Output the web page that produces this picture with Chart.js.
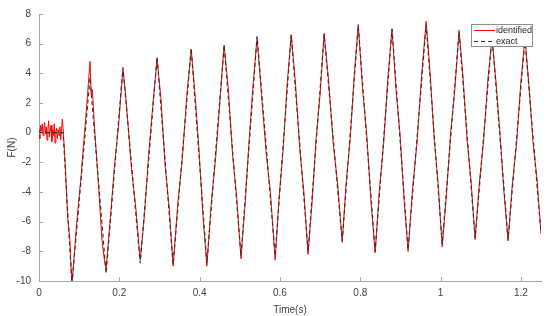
<!DOCTYPE html>
<html>
<head>
<meta charset="utf-8">
<script src="https://cdn.jsdelivr.net/npm/chart.js@4.4.0/dist/chart.umd.min.js"></script>
<style>
  html, body { margin: 0; padding: 0; background: #ffffff; }
  #wrap { width: 550px; height: 316px; }
</style>
</head>
<body>
<div id="wrap"><canvas id="forceChart" width="550" height="316"></canvas></div>
<script>
// exact force (dashed) - turning points
const exactTime = [0, 0.060, 0.082, 0.127, 0.167, 0.209, 0.252, 0.294, 0.334, 0.379, 0.418, 0.461, 0.503, 0.543, 0.588, 0.628,
    0.670, 0.710, 0.755, 0.795, 0.837, 0.879, 0.919, 0.964, 1.004, 1.046, 1.086, 1.128, 1.168, 1.210, 1.25];
const exactForce = [0, 0, -10.2, 3.7, -9.5, 4.4, -8.8, 5.1, -8.9, 5.7, -8.8, 5.9, -8.3, 6.5, -8.3, 6.6,
    -8.0, 6.6, -7.3, 7.2, -8.0, 7.0, -7.9, 7.3, -7.5, 6.8, -7.1, 6.5, -7.2, 6.3, -6.8];

// identified force (red) - noisy trace
const identTime = [0, 0.002, 0.004, 0.006, 0.008, 0.010, 0.012, 0.014, 0.016, 0.018, 0.020, 0.022, 0.024, 0.026, 0.028, 0.030,
    0.032, 0.034, 0.036, 0.038, 0.040, 0.042, 0.044, 0.046, 0.048, 0.050, 0.052, 0.054, 0.056, 0.058, 0.060,
    0.0655, 0.071, 0.0765, 0.082, 0.0932, 0.1045, 0.1158, 0.121, 0.127, 0.130, 0.133, 0.137, 0.147, 0.157, 0.162, 0.167,
    0.1775, 0.188, 0.1985, 0.209, 0.216, 0.2305, 0.2412, 0.252, 0.2625, 0.273, 0.2835, 0.294, 0.304, 0.314, 0.324, 0.334,
    0.3452, 0.3565, 0.3678, 0.379, 0.3888, 0.3985, 0.4082, 0.418, 0.4288, 0.4395, 0.4502, 0.461, 0.4715, 0.482, 0.4925, 0.503,
    0.513, 0.523, 0.533, 0.543, 0.5542, 0.5655, 0.5768, 0.588, 0.598, 0.608, 0.618, 0.628, 0.6385, 0.649, 0.6595, 0.670,
    0.680, 0.690, 0.700, 0.710, 0.7212, 0.7325, 0.7438, 0.755, 0.765, 0.775, 0.785, 0.795, 0.8055, 0.816, 0.8265, 0.837,
    0.8475, 0.858, 0.8685, 0.879, 0.889, 0.899, 0.909, 0.919, 0.9302, 0.9415, 0.9528, 0.964, 0.974, 0.984, 0.994, 1.004,
    1.0145, 1.025, 1.0355, 1.046, 1.056, 1.066, 1.076, 1.086, 1.0965, 1.107, 1.1175, 1.128, 1.138, 1.148, 1.158, 1.168,
    1.1785, 1.189, 1.1995, 1.210, 1.220, 1.230, 1.240, 1.25];
const identForce = [0.2, -0.4, 0.5, 0.1, 0.6, -0.2, 0.3, 0.7, -0.1, 0.4, -0.5, 0.2, 0.8, -0.3, 0.1, 0.5,
    -0.6, 0.2, -0.2, 0.6, -0.7, 0.1, 0.3, -0.4, 0.2, -0.2, 0.4, -0.5, 0.1, 0.9, 0.3,
    -2.2, -5.6, -7.1, -10.3, -6.3, -3.0, 0.8, 2.6, 4.8, 2.6, 2.9, 0.9, -3.1, -7.3, -8.4, -9.2,
    -5.8, -2.2, 0.6, 4.3, 2.5, -2.5, -5.1, -8.6, -5.6, -1.5, 1.9, 5.0, 2.2, -2.2, -5.0, -9.0,
    -4.9, -1.9, 2.4, 5.6, 2.5, -1.2, -5.6, -9.0, -4.8, -1.8, 2.0, 5.9, 2.9, -1.5, -4.4, -8.5,
    -4.9, -0.6, 3.2, 6.4, 2.5, -1.3, -4.2, -8.6, -4.3, -1.1, 3.3, 6.6, 3.4, -1.0, -4.0, -8.2,
    -4.7, -0.4, 2.6, 6.7, 3.5, -0.7, -3.5, -7.4, -3.3, -0.4, 3.9, 7.3, 3.0, -0.1, -4.6, -8.1,
    -3.9, -0.8, 3.6, 7.0, 2.9, -0.1, -4.5, -8.0, -3.8, -0.6, 3.9, 7.5, 4.0, -0.4, -3.5, -7.7,
    -4.2, 0.0, 2.9, 6.9, 3.7, -0.5, -3.3, -7.2, -3.4, -0.6, 3.5, 6.4, 3.4, -0.1, -4.1, -7.3,
    -3.5, -0.8, 3.3, 6.4, 3.2, -0.6, -3.1, -6.8];

const xTicks = [0, 0.2, 0.4, 0.6, 0.8, 1, 1.2];
const yTicks = [-10, -8, -6, -4, -2, 0, 2, 4, 6, 8];

const AXIS_COLOR = '#a6a6a6';
const TEXT_COLOR = '#404040';
const FONT = 'Liberation Sans, Arial, sans-serif';

function toPoints(xs, ys) {
    return xs.map((x, i) => ({ x: x, y: ys[i] }));
}

// MATLAB style inward tick marks
const innerTicks = {
    id: 'innerTicks',
    afterDraw(chart) {
        const ctx = chart.ctx;
        const xs = chart.scales.x, ys = chart.scales.y;
        const area = chart.chartArea;
        ctx.save();
        ctx.strokeStyle = AXIS_COLOR;
        ctx.lineWidth = 1;
        ctx.beginPath();
        xTicks.forEach(v => {
            const px = Math.round(xs.getPixelForValue(v)) + 0.5;
            ctx.moveTo(px, area.bottom);
            ctx.lineTo(px, area.bottom - 4);
        });
        yTicks.forEach(v => {
            const py = Math.round(ys.getPixelForValue(v)) + 0.5;
            ctx.moveTo(area.left, py);
            ctx.lineTo(area.left + 4, py);
        });
        ctx.stroke();
        ctx.restore();
    }
};

// boxed legend in the top right corner
const boxLegend = {
    id: 'boxLegend',
    afterDraw(chart) {
        const ctx = chart.ctx;
        const area = chart.chartArea;
        const left = area.right - 70, top = area.top + 10, w = 61, h = 22;
        ctx.save();
        ctx.fillStyle = '#ffffff';
        ctx.fillRect(left, top, w, h);
        ctx.strokeStyle = '#8c8c8c';
        ctx.lineWidth = 1;
        ctx.strokeRect(left + 0.5, top + 0.5, w, h);
        ctx.font = '9px ' + FONT;
        ctx.textBaseline = 'middle';
        ctx.fillStyle = '#262626';
        chart.data.datasets.forEach((ds, i) => {
            const y = top + 6 + i * 11;
            ctx.strokeStyle = ds.borderColor;
            ctx.lineWidth = ds.borderWidth;
            ctx.setLineDash(ds.borderDash || []);
            ctx.beginPath();
            ctx.moveTo(left + 3, y + 0.5);
            ctx.lineTo(left + 24, y + 0.5);
            ctx.stroke();
            ctx.fillText(ds.label, left + 25, y + 0.5);
        });
        ctx.restore();
    }
};

new Chart(document.getElementById('forceChart'), {
    type: 'line',
    data: {
        datasets: [{
            label: 'identified',
            data: toPoints(identTime, identForce),
            borderColor: '#ff0000',
            borderWidth: 1,
            order: 2
        }, {
            label: 'exact',
            data: toPoints(exactTime, exactForce),
            borderColor: '#333333',
            borderWidth: 1.2,
            borderDash: [4, 3],
            order: 1
        }]
    },
    options: {
        responsive: false,
        animation: false,
        events: [],
        layout: { padding: { top: 11, right: 9, left: 0, bottom: 0 } },
        elements: {
            point: { radius: 0 },
            line: { tension: 0, fill: false }
        },
        plugins: {
            legend: { display: false },
            tooltip: { enabled: false }
        },
        scales: {
            x: {
                type: 'linear',
                min: 0,
                max: 1.25,
                afterFit: s => { s.height = 35; },
                afterBuildTicks: s => { s.ticks = xTicks.map(v => ({ value: v })); },
                border: { color: AXIS_COLOR, width: 1 },
                grid: { display: false, drawTicks: false },
                ticks: {
                    padding: 6,
                    maxRotation: 0,
                    color: TEXT_COLOR,
                    font: { family: FONT, size: 10 },
                    callback: v => String(Math.round(v * 10) / 10)
                },
                title: {
                    display: true,
                    text: 'Time(s)',
                    color: TEXT_COLOR,
                    font: { family: FONT, size: 10 },
                    padding: { top: 10, bottom: 0 }
                }
            },
            y: {
                min: -10,
                max: 8,
                afterFit: s => { s.width = 39; },
                afterBuildTicks: s => { s.ticks = yTicks.map(v => ({ value: v })); },
                border: { color: AXIS_COLOR, width: 1 },
                grid: { display: false, drawTicks: false },
                ticks: {
                    padding: 8,
                    color: TEXT_COLOR,
                    font: { family: FONT, size: 10 }
                },
                title: {
                    display: true,
                    text: 'F(N)',
                    color: TEXT_COLOR,
                    font: { family: FONT, size: 10 },
                    padding: { top: 6, bottom: 0 }
                }
            }
        }
    },
    plugins: [innerTicks, boxLegend]
});
</script>
</body>
</html>
